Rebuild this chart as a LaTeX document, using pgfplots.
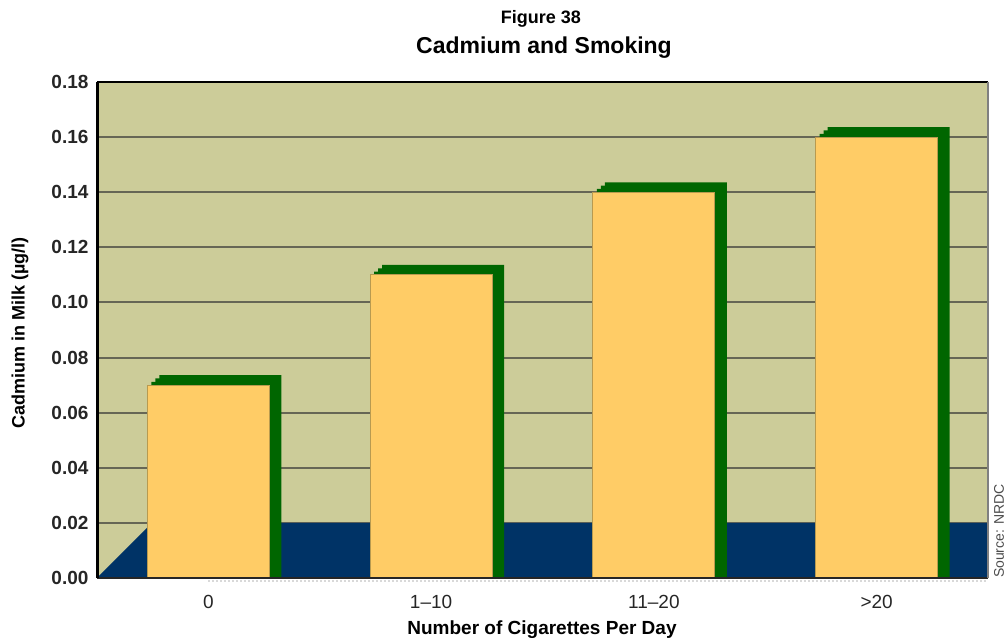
\documentclass[border=0pt]{standalone}
\usepackage{pgfplots}
\usepackage{pgfplotstable}
\pgfplotsset{compat=1.18}
\usepackage{fontspec}
\setmainfont{Liberation Sans}
\definecolor{khaki}{HTML}{CCCC99}
\definecolor{barYellow}{HTML}{FFCC66}
\definecolor{barGreen}{HTML}{006600}
\definecolor{floorNavy}{HTML}{003366}
\definecolor{gridGray}{HTML}{666655}
\definecolor{barEdge}{HTML}{B89A50}
\pgfplotstableread{
x y
0 0.07
1 0.11
2 0.14
3 0.16
}\datatable
\begin{document}
\begin{tikzpicture}[x=1pt,y=1pt]
\useasboundingbox (0,0) rectangle (1007,639);
\begin{axis}[
  at={(97pt,61pt)}, anchor=south west,
  scale only axis, width=891pt, height=496pt,
  xmin=-0.5, xmax=3.5, ymin=0, ymax=0.18,
  clip=false,
  axis background/.style={fill=khaki},
  axis line style={draw=none},
  xtick={0,1,2,3}, xticklabels={0,1–10,11–20,>20},
  ytick={0,0.02,0.04,0.06,0.08,0.10,0.12,0.14,0.16,0.18},
  major tick length=0pt,
  ymajorgrids, grid style={color=gridGray, line width=2pt},
  /pgf/number format/assume math mode=true,
  yticklabel style={/pgf/number format/.cd, fixed, fixed zerofill, precision=2, /tikz/.cd,
     font=\fontsize{19}{19}\selectfont\bfseries, text=black!85, xshift=-5pt},
  xticklabel style={font=\fontsize{19}{19}\selectfont, text=black!85, yshift=-14pt},
]
\addplot[fill=floorNavy, draw=none] coordinates {(-0.5,0) (-0.253,0.02) (3.5,0.02) (3.5,0)} -- cycle;
\addplot[ybar, bar width=0.548, bar shift=0pt, fill=barGreen, draw=none]
  table[x expr=\thisrow{x}+0.018, y expr=\thisrow{y}+0.0012]{\datatable};
\addplot[ybar, bar width=0.548, bar shift=0pt, fill=barGreen, draw=none]
  table[x expr=\thisrow{x}+0.036, y expr=\thisrow{y}+0.0024]{\datatable};
\addplot[ybar, bar width=0.548, bar shift=0pt, fill=barGreen, draw=none]
  table[x expr=\thisrow{x}+0.054, y expr=\thisrow{y}+0.0036]{\datatable};
\addplot[ybar, bar width=0.548, bar shift=0pt, fill=barYellow, draw=barEdge, line width=1pt]
  table[x=x, y=y]{\datatable};
\draw[black!15, line width=2pt, dotted] (rel axis cs:0,0) ++(0,-3pt) -- ([yshift=-3pt]rel axis cs:1,0);
\draw[black!85, line width=2pt] (rel axis cs:0,0) -- (rel axis cs:1,0);
\draw[black, line width=3pt] (rel axis cs:0,0) -- (rel axis cs:0,1);
\draw[black, line width=2pt] (rel axis cs:0,1) -- (rel axis cs:1,1);
\draw[gray, line width=2pt] (rel axis cs:1,1) -- (rel axis cs:1,0);
\end{axis}
\node[font=\fontsize{18}{18}\selectfont\bfseries] at (541,620) {Figure 38};
\node[font=\fontsize{23}{23}\selectfont\bfseries] at (544,591) {Cadmium and Smoking};
\node[font=\fontsize{19}{19}\selectfont\bfseries] at (542,9) {Number of Cigarettes Per Day};
\node[font=\fontsize{18}{18}\selectfont\bfseries, rotate=90] at (20,306) {Cadmium in Milk (µg/l)};
\node[font=\fontsize{14}{14}\selectfont, text=black!70, rotate=90] at (999,108) {Source: NRDC};
\end{tikzpicture}
\end{document}
